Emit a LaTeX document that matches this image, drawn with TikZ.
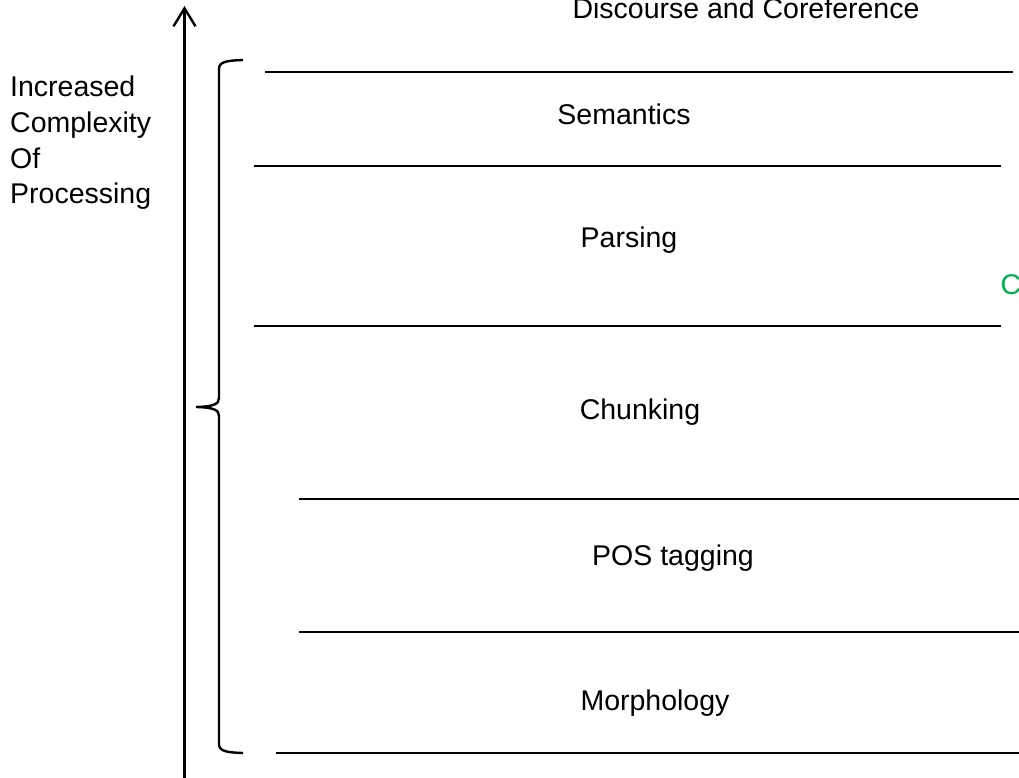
\documentclass[tikz,border=0pt]{standalone}
\usepackage{fontspec}
\setmainfont{Liberation Sans}
\usetikzlibrary{arrows.meta}
\definecolor{levelgreen}{RGB}{0,176,80}
\begin{document}
\begin{tikzpicture}[x=1pt,y=-1pt,
  rule/.style={line width=2.4pt,line cap=butt},
  level/.style={font=\fontsize{28.5}{34}\selectfont,anchor=base,inner sep=0pt},
  side/.style={font=\fontsize{28.5}{34}\selectfont,anchor=base west,inner sep=0pt}]
\useasboundingbox (0,0) rectangle (1019,778);

% axis of increasing complexity
\coordinate (axisbot) at (184.5,790);
\coordinate (axistop) at (184.5,6);
\draw[line width=2.4pt,-{Straight Barb[length=18pt,width=22pt,line width=2.4pt]}] (axisbot) -- (axistop);

\node[side] (inc)  at (10,97)    {Increased};
\node[side] (cpx)  at (10,132.5) {Complexity};
\node[side] (of)   at (10,168)   {Of};
\node[side] (proc) at (10,203.5) {Processing};

% brace spanning the lower levels
\coordinate (bt) at (243,60);
\coordinate (bm) at (196,407);
\coordinate (bb) at (243,753);
\draw[line width=2.4pt]
  (bt) .. controls (226,60.5) and (219,62) .. (219,69)
  -- (219,398) .. controls (219,404) and (214,406.5) .. (bm)
  .. controls (214,407.5) and (219,410) .. (219,416)
  -- (219,744) .. controls (219,751) and (226,752.5) .. (bb);

% separators between the levels
\coordinate (r1a) at (265,72);  \coordinate (r1b) at (1013,72);
\coordinate (r2a) at (254,166); \coordinate (r2b) at (1001,166);
\coordinate (r3a) at (254,326); \coordinate (r3b) at (1001,326);
\coordinate (r4a) at (299,499); \coordinate (r4b) at (1019,499);
\coordinate (r5a) at (299,632); \coordinate (r5b) at (1019,632);
\coordinate (r6a) at (276,753); \coordinate (r6b) at (1019,753);
\foreach \r in {1,...,6} \draw[rule] (r\r a) -- (r\r b);

% level names
\node[level] (disc)  at (746,19)  {Discourse and Coreference};
\node[level] (sem)   at (624,125) {Semantics};
\node[level] (pars)  at (629,247) {Parsing};
\node[level] (chunk) at (640,419) {Chunking};
\node[level] (pos)   at (673,565) {POS tagging};
\node[level] (morph) at (655,710) {Morphology};
\node[side,text=levelgreen] (cside) at (1000.5,294) {C};
\end{tikzpicture}
\end{document}
